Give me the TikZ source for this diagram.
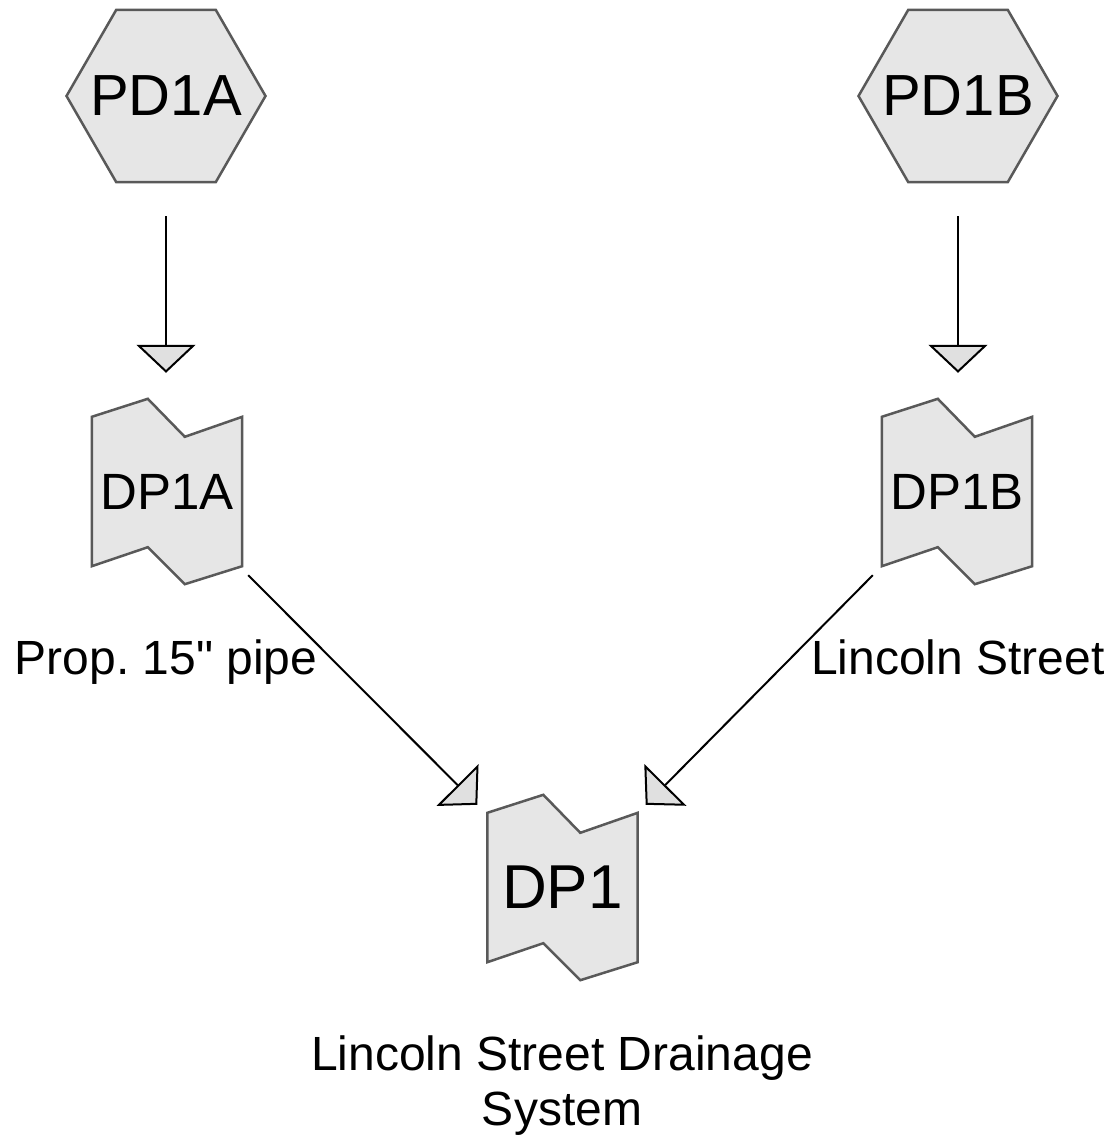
\documentclass[tikz,border=0pt]{standalone}
\usepackage{fontspec}
\setmainfont{Liberation Sans}[Ligatures=TeXOff]
\usetikzlibrary{shapes.geometric,arrows.meta,calc,backgrounds}
\definecolor{shapegray}{HTML}{595959}
\definecolor{shapefill}{HTML}{E6E6E6}
\definecolor{tipfill}{HTML}{E0E0E0}
\frenchspacing

\begin{document}
\begin{tikzpicture}[x=1pt,y=-1pt]
	\tikzset{pd hex/.style={draw=shapegray,fill=shapefill,line width=2.5pt,regular polygon,regular polygon sides=6,minimum size=199pt,inner sep=0pt,font=\fontsize{58}{60}\selectfont},
		dp box/.style={minimum width=150pt,minimum height=185pt,inner sep=0pt,font=\fontsize{51}{53}\selectfont},
		dp outline/.style={draw=shapegray,fill=shapefill,line width=2.5pt,line join=miter},
		flow/.style={line width=2pt,-{Triangle[width=59pt,length=28pt,fill=tipfill]}},
		flow label/.style={inner sep=0pt,font=\fontsize{48}{55}\selectfont}}
	\useasboundingbox (0,0) rectangle (1118,1143);
	% hexagon sources
	\node [pd hex] (PD1A) at (166,96) {\makebox[0pt]{PD1A}};
	\node [pd hex] (PD1B) at (958,96) {\makebox[0pt]{PD1B}};
	% design points
	\node [dp box] (DP1A) at (167,491.5) {DP1A};
	\node [dp box] (DP1B) at (957,491.5) {DP1B};
	\node [dp box,font=\fontsize{62}{64}\selectfont] (DP1) at (562.5,887.5) {DP1};
	\begin{scope}[on background layer]
		\foreach \n in {DP1A,DP1B,DP1}
			\draw [dp outline] ($(\n.north west)+(0,18)$) -- ($(\n.north west)+(56,0)$) -- ($(\n.north west)+(93,38)$) -- ($(\n.north east)+(0,18)$) -- ($(\n.south east)+(0,-18)$) -- ($(\n.south west)+(93,0)$) -- ($(\n.south west)+(56,-37)$) -- ($(\n.south west)+(0,-18)$) -- cycle;
	\end{scope}
	% flows
	\draw [flow,shorten <=33pt,shorten >=26pt] (PD1A.south) -- (PD1A.south |- DP1A.north);
	\draw [flow,shorten <=33pt,shorten >=26pt] (PD1B.south) -- (PD1B.south |- DP1B.north);
	\draw [flow] ([shift={(6,-9)}]DP1A.south east) -- ([shift={(-10,10)}]DP1.north west);
	\draw [flow] ([shift={(-9,-9)}]DP1B.south west) -- ([shift={(8,10)}]DP1.north east);
	\node [flow label,anchor=base] (lblA) at (166,674) {Prop. 15" pipe};
	\node [flow label,anchor=base] (lblB) at (958,674) {Lincoln Street};
	\node [flow label,anchor=north,align=center] (lblDP1) at (562,1036) {Lincoln Street Drainage\\System};
\end{tikzpicture}
\end{document}
